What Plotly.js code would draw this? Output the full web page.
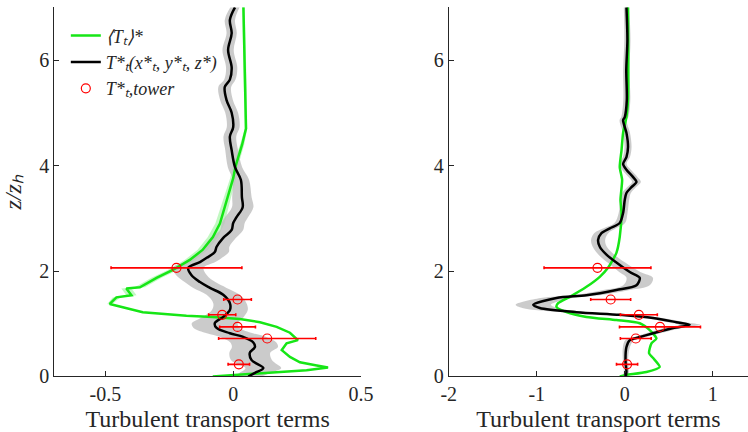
<!DOCTYPE html>
<html>
<head>
<meta charset="utf-8">
<script src="https://cdn.plot.ly/plotly-3.0.1.min.js"></script>
<style>
html,body{margin:0;padding:0;background:#fff}
#chart{width:748px;height:432px}
#fw{position:absolute;left:-9999px;top:0;font-family:'Liberation Serif';font-size:20px}
</style>
</head>
<body>
<div id="fw">&nbsp;</div>
<div id="chart"></div>
<script>
// Left panel data
const zL_blk = [7.0,6.76,6.51,6.19,5.86,5.63,5.49,5.24,5.0,4.73,4.55,4.29,3.97,3.73,3.40,3.21,3.02,2.91,2.78,2.63,2.46,2.36,2.25,2.17,2.06,1.92,1.79,1.68,1.55,1.39,1.26,1.13,1.01,0.92,0.82,0.75,0.65,0.56,0.45,0.31,0.16,0.07,0.0];
const vL_blk = [0.007,-0.013,-0.006,-0.02,-0.006,-0.013,-0.033,-0.026,-0.006,0.0,-0.013,-0.006,0.007,0.03,0.034,0.037,0.013,0.0,-0.006,-0.039,-0.065,-0.072,-0.104,-0.13,-0.176,-0.163,-0.13,-0.091,-0.039,-0.013,-0.013,-0.039,-0.072,-0.065,-0.013,0.039,0.078,0.085,0.065,0.072,0.118,0.085,0.059];
const hwL_blk = [0.018,0.02,0.02,0.022,0.022,0.022,0.025,0.025,0.025,0.025,0.025,0.025,0.028,0.032,0.038,0.042,0.045,0.045,0.045,0.05,0.05,0.055,0.06,0.06,0.06,0.06,0.06,0.065,0.065,0.065,0.07,0.08,0.09,0.09,0.09,0.09,0.09,0.09,0.08,0.08,0.07,0.06,0.05];

const zL_g = [7.0,6.5,6.0,5.5,5.0,4.7,4.4,4.0,3.76,3.35,2.9,2.64,2.4,2.21,2.02,1.87,1.69,1.67,1.54,1.5,1.375,1.22,1.15,1.13,1.09,1.03,0.94,0.83,0.69,0.63,0.5,0.37,0.27,0.21,0.17,0.12,0.066,0.0];
const vL_g = [0.04,0.042,0.045,0.048,0.05,0.05,0.035,0.01,0.0,-0.026,-0.052,-0.08,-0.12,-0.17,-0.236,-0.30,-0.365,-0.418,-0.398,-0.457,-0.483,-0.354,-0.183,-0.08,0.026,0.105,0.17,0.222,0.253,0.209,0.19,0.222,0.261,0.327,0.371,0.287,0.105,-0.08];
const hwL_g = [0.005,0.005,0.005,0.005,0.005,0.005,0.008,0.01,0.012,0.015,0.018,0.02,0.02,0.02,0.02,0.02,0.02,0.02,0.02,0.015,0.01,0.008,0.006,0.005,0.005,0.005,0.005,0.005,0.005,0.005,0.005,0.005,0.005,0.005,0.005,0.005,0.005,0.005];

const zTower = [2.06,1.46,1.17,0.94,0.72,0.23];
const vTowerL = [-0.222,0.017,-0.043,0.017,0.133,0.022];
const eTowerL = [0.256,0.054,0.053,0.07,0.19,0.042];

// Right panel data
const zR_blk = [7.0,6.38,5.81,5.24,4.92,4.86,4.62,4.35,4.16,4.03,3.92,3.78,3.69,3.59,3.48,3.35,3.10,2.91,2.81,2.72,2.59,2.46,2.31,2.16,1.98,1.87,1.73,1.64,1.54,1.49,1.36,1.30,1.22,1.17,1.11,1.03,0.98,0.92,0.82,0.73,0.69,0.56,0.31,0.085,0.0];
const vR_blk = [0.019,0.03,0.017,0.023,0.0,-0.019,0.019,0.037,0.019,-0.019,0.019,0.095,0.133,0.076,0.019,0.0,-0.019,-0.057,-0.17,-0.265,-0.303,-0.284,-0.208,-0.095,0.057,0.17,0.133,-0.095,-0.435,-0.776,-1.04,-0.965,-0.549,-0.057,0.322,0.587,0.738,0.549,0.322,0.133,0.057,0.019,0.008,0.019,0.011];
const hwR_blk = [0.03,0.035,0.035,0.04,0.04,0.04,0.04,0.04,0.04,0.04,0.05,0.05,0.05,0.05,0.05,0.05,0.05,0.06,0.07,0.08,0.08,0.08,0.09,0.1,0.12,0.15,0.15,0.15,0.15,0.18,0.2,0.2,0.15,0.12,0.1,0.1,0.12,0.1,0.08,0.06,0.05,0.04,0.03,0.03,0.03];

const zR_g = [7.0,5.24,4.92,4.62,4.29,3.97,3.73,3.35,3.10,2.65,2.35,2.06,1.89,1.70,1.51,1.39,1.32,1.22,1.13,1.07,1.01,0.88,0.72,0.63,0.44,0.35,0.18,0.085,0.028,0.0];
const vR_g = [0.037,0.037,0.019,-0.019,-0.037,-0.057,-0.03,-0.049,-0.037,-0.057,-0.094,-0.19,-0.284,-0.435,-0.624,-0.757,-0.776,-0.662,-0.435,-0.095,0.17,0.284,0.36,0.303,0.276,0.322,0.397,0.246,0.019,-0.057];

const vTowerR = [-0.31,-0.16,0.16,0.40,0.125,0.026];
const eTowerR = [0.607,0.227,0.21,0.46,0.175,0.12];

const xTicksL = [-0.5,0,0.5];
const xTicksR = [-2,-1,0,1];
const yTicks = [0,2,4,6];

const nameMean = '\u27e8T\u209c\u27e9*';
const nameLocal = 'T*\u209c(x*\u209c, y*\u209c, z*)';
const nameTower = 'T*\u209c,tower';
const xTitle = 'Turbulent transport terms';
const yTitle = 'z/z\u2095';

function band(v, z, hw, xa, ya, color, shape) {
  const lo = v.map((c,i)=>c-hw[i]);
  const hi = v.map((c,i)=>c+hw[i]);
  return {
    x: lo.concat(hi.slice().reverse()),
    y: z.concat(z.slice().reverse()),
    xaxis: xa, yaxis: ya, type: 'scatter', mode: 'lines',
    fill: 'toself', fillcolor: color, line: {width: 0, shape: shape},
    hoverinfo: 'skip', showlegend: false
  };
}
const GREEN = '#16e616';
const SERIF = 'Liberation Serif';
const AXC = '#262626';

const traces = [
  band(vL_g, zL_g, hwL_g, 'x', 'y', 'rgba(120,240,120,0.45)', 'linear'),
  band(vL_blk, zL_blk, hwL_blk, 'x', 'y', 'rgba(190,190,190,0.8)', 'spline'),
  band(vR_blk, zR_blk, hwR_blk, 'x2', 'y2', 'rgba(190,190,190,0.8)', 'spline'),
  {x: vL_g, y: zL_g, xaxis:'x', yaxis:'y', type:'scatter', mode:'lines',
   line:{color:GREEN, width:2.5}, name:nameMean},
  {x: vL_blk, y: zL_blk, xaxis:'x', yaxis:'y', type:'scatter', mode:'lines',
   line:{color:'#000', width:2.5, shape:'spline'}, name:nameLocal},
  {x: vTowerL, y: zTower, xaxis:'x', yaxis:'y', type:'scatter', mode:'markers',
   marker:{symbol:'circle-open', color:'#ff0000', size:9, line:{width:1.2}},
   error_x:{type:'data', array:eTowerL, visible:true, color:'#ff0000', thickness:1.6, width:1.5},
   name:nameTower},
  {x: vR_g, y: zR_g, xaxis:'x2', yaxis:'y2', type:'scatter', mode:'lines',
   line:{color:GREEN, width:2.5, shape:'spline', smoothing:0.6}, showlegend:false},
  {x: vR_blk, y: zR_blk, xaxis:'x2', yaxis:'y2', type:'scatter', mode:'lines',
   line:{color:'#000', width:2.5, shape:'spline', smoothing:0.8}, showlegend:false},
  {x: vTowerR, y: zTower, xaxis:'x2', yaxis:'y2', type:'scatter', mode:'markers',
   marker:{symbol:'circle-open', color:'#ff0000', size:9, line:{width:1.2}},
   error_x:{type:'data', array:eTowerR, visible:true, color:'#ff0000', thickness:1.6, width:1.5},
   showlegend:false}
];

function xax(domain, range, ticks) {
  return {domain: domain, range: range, tickvals: ticks, ticktext: ticks.map(String),
    showline:true, linecolor:AXC, linewidth:1, ticks:'inside', ticklen:5, tickcolor:AXC,
    showgrid:false, zeroline:false,
    tickfont:{family:SERIF, size:20, color:AXC},
    title:{text:xTitle, font:{family:SERIF, size:24, color:AXC}}};
}
function yax(anchor) {
  return {domain:[0.1285,0.983], range:[0,7], tickvals:yTicks, ticktext:yTicks.map(String),
    anchor: anchor, showline:true, linecolor:AXC, linewidth:1, ticks:'inside', ticklen:5, tickcolor:AXC,
    showgrid:false, zeroline:false,
    tickfont:{family:SERIF, size:20, color:AXC}};
}

const layout = {
  width:748, height:432, margin:{l:0,r:0,t:0,b:0},
  font:{family:SERIF, size:18, color:AXC},
  xaxis: Object.assign(xax([0.0726,0.4826], [-0.7,0.5], xTicksL), {anchor:'y'}),
  yaxis: Object.assign(yax('x'), {title:{text:yTitle, font:{family:SERIF, size:24, color:AXC, style:'italic'}}}),
  xaxis2: Object.assign(xax([0.5999,1.0], [-2,1.4], xTicksR), {anchor:'y2'}),
  yaxis2: yax('x2'),
  showlegend:true,
  legend:{x:0.088, y:0.96, xanchor:'left', yanchor:'top', bgcolor:'rgba(0,0,0,0)',
    font:{family:SERIF, size:18, color:AXC, style:'italic'}}
};

void document.getElementById('fw').offsetWidth;
Plotly.newPlot('chart', traces, layout, {staticPlot:true});
</script>
</body>
</html>
